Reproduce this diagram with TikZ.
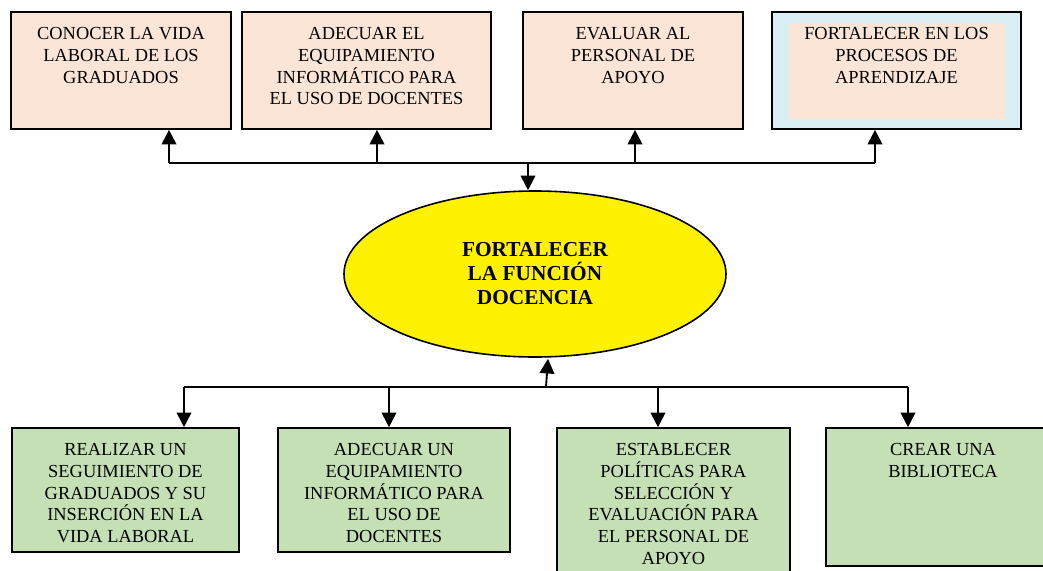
\documentclass[tikz,border=0pt]{standalone}
\usepackage{fontspec}
\setmainfont{Liberation Serif}
\usetikzlibrary{shapes.geometric,arrows.meta,calc}
\definecolor{peach}{HTML}{FBE5D6}
\definecolor{skyb}{HTML}{DAEEF3}
\definecolor{lgreen}{HTML}{C5E0B4}
\begin{document}
\begin{tikzpicture}[x=0.75pt,y=-0.75pt,
  box/.style={draw, line width=1.2pt, inner sep=0pt, anchor=center},
  txt/.style={anchor=north, align=center, inner sep=0pt, font=\fontsize{13.8pt}{16.3pt}\selectfont},
  conn/.style={line width=1.4pt},
  arr/.style={line width=1.4pt, -{Triangle[length=11pt,width=11pt]}}]
\useasboundingbox (0,0) rectangle (1043,571);
\clip (0,0) rectangle (1043,571);
\fill[white] (0,0) rectangle (1043,571);
% top boxes
\node[box, fill=peach, minimum width=165pt, minimum height=87.75pt] (b1) at (121,70.5) {};
\node[box, fill=peach, minimum width=186.75pt, minimum height=87.75pt] (b2) at (366.5,70.5) {};
\node[box, fill=peach, minimum width=165pt, minimum height=87.75pt] (b3) at (633,70.5) {};
\node[box, fill=skyb, minimum width=186.75pt, minimum height=87.75pt] (b4) at (896.5,70.5) {};
\node[fill=peach, inner sep=0pt, minimum width=162pt, minimum height=72pt] (b4i) at (897,71) {};
\node[txt] (tb1) at ($(b1.north)+(0,16)$) {CONOCER LA VIDA\\LABORAL DE LOS\\GRADUADOS};
\node[txt] (tb2) at ($(b2.north)+(0,16)$) {ADECUAR EL\\EQUIPAMIENTO\\INFORMÁTICO PARA\\EL USO DE DOCENTES};
\node[txt] (tb3) at ($(b3.north)+(0,16)$) {EVALUAR AL\\PERSONAL DE\\APOYO};
\node[txt] (tb4) at ($(b4.north)+(0,16)$) {FORTALECER EN LOS\\PROCESOS DE\\APRENDIZAJE};
% ellipse
\node[ellipse, draw, line width=1.2pt, fill=yellow, inner sep=0pt, minimum width=286.5pt, minimum height=124.5pt, align=center, font=\bfseries\fontsize{16pt}{18pt}\selectfont] (e) at (535,274) {FORTALECER\\LA FUNCIÓN\\DOCENCIA};
% bottom boxes
\node[box, fill=lgreen, minimum width=170.25pt, minimum height=93pt] (c1) at (125.5,490) {};
\node[box, fill=lgreen, minimum width=174pt, minimum height=93pt] (c2) at (394,490) {};
\node[box, fill=lgreen, minimum width=174.75pt, minimum height=121.5pt] (c3) at (673.5,509) {};
\node[box, fill=lgreen, minimum width=175.5pt, minimum height=103.5pt] (c4) at (943,497) {};
\node[txt] (tc1) at ($(c1.north)+(0,16)$) {REALIZAR UN\\SEGUIMIENTO DE\\GRADUADOS Y SU\\INSERCIÓN EN LA\\VIDA LABORAL};
\node[txt] (tc2) at ($(c2.north)+(0,16)$) {ADECUAR UN\\EQUIPAMIENTO\\INFORMÁTICO PARA\\EL USO DE\\DOCENTES};
\node[txt] (tc3) at ($(c3.north)+(0,16)$) {ESTABLECER\\POLÍTICAS PARA\\SELECCIÓN Y\\EVALUACIÓN PARA\\EL PERSONAL DE\\APOYO};
\node[txt] (tc4) at ($(c4.north)+(0,16)$) {CREAR UNA\\BIBLIOTECA};
% top connectors
\coordinate (t1) at (169,163);
\coordinate (t2) at (377,163);
\coordinate (t3) at (635,163);
\coordinate (t4) at (875,163);
\coordinate (tm) at (528,163);
\draw[conn] (t1) -- (t4);
\draw[arr] (t1) -- (t1 |- b1.south);
\draw[arr] (t2) -- (t2 |- b2.south);
\draw[arr] (t3) -- (t3 |- b3.south);
\draw[arr] (t4) -- (t4 |- b4.south);
\draw[arr] (tm) -- (tm |- e.north);
% bottom connectors
\coordinate (u1) at (184,387);
\coordinate (u2) at (389,387);
\coordinate (u3) at (658,387);
\coordinate (u4) at (908,387);
\coordinate (um) at (546,387);
\draw[conn] (u1) -- (u4);
\draw[arr] (u1) -- (u1 |- c1.north);
\draw[arr] (u2) -- (u2 |- c2.north);
\draw[arr] (u3) -- (u3 |- c3.north);
\draw[arr] (u4) -- (u4 |- c4.north);
\draw[arr] (um) -- ($(e.south)+(13,1)$);
\end{tikzpicture}
\end{document}
